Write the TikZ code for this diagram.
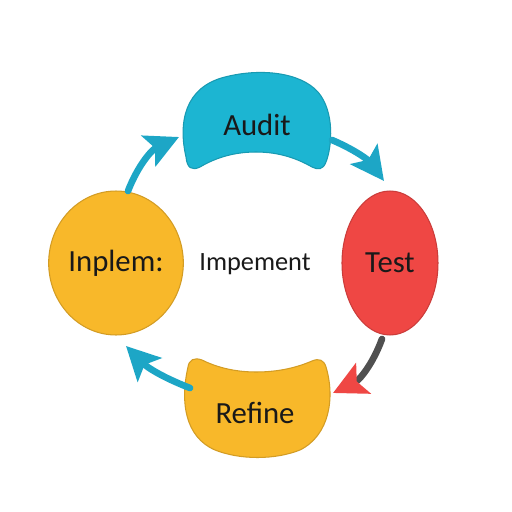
\documentclass[tikz,border=0pt]{standalone}
\usepackage{fontspec}
\setmainfont{Carlito}
\usepackage{tikz}
\usetikzlibrary{arrows.meta,shapes.geometric}
\usepackage{xcolor}
\definecolor{auditcyan}{HTML}{1CB5D2}
\definecolor{arrowcyan}{HTML}{1DA6C6}
\definecolor{testred}{HTML}{EF4744}
\definecolor{blobyellow}{HTML}{F8B82A}
\definecolor{shaftgray}{HTML}{505050}

\begin{document}
\begin{tikzpicture}[x=0.02cm,y=0.02cm,line cap=round,
  >={Stealth[length=19pt,width=19pt,inset=4pt]},
  blob/.style={ellipse,inner sep=0pt,outer sep=0pt,minimum width=#1,minimum height=2.88cm},
  label/.style={font=\fontsize{17.5}{20}\selectfont,text=black!90},
  flow/.style={->,arrowcyan,line width=3.8pt}]
\useasboundingbox[fill=white] (0,0) rectangle (512,512);
\fill[auditcyan,draw=auditcyan!85!black,line width=0.6pt] (256,360) .. controls (230,360) and (212,352) .. (200,345)
  .. controls (192,341) and (187,344) .. (186,355) .. controls (178,390) and (185,425) .. (225,435)
  .. controls (260,444) and (300,440) .. (318,420) .. controls (335,400) and (332,365) .. (326,350)
  .. controls (323,342) and (318,342) .. (312,345) .. controls (298,353) and (280,360) .. (256,360) -- cycle;
\fill[blobyellow,draw=blobyellow!85!black,line width=0.6pt] (256,140) .. controls (232,140) and (214,146) .. (202,152)
  .. controls (194,155) and (189,152) .. (188,145) .. controls (180,110) and (185,75) .. (215,62)
  .. controls (240,52) and (275,52) .. (300,62) .. controls (330,77) and (335,115) .. (326,145)
  .. controls (324,152) and (319,154) .. (312,151) .. controls (298,145) and (280,140) .. (256,140) -- cycle;
\node[label] (audit) at (257,387) {Audit};
\node[label] (refine) at (255,99) {Refine};
\node[blob=1.92cm,fill=testred,draw=testred!85!black,line width=0.6pt,label] (test) at (390,249) {Test};
\node[blob=2.16cm,fill=blobyellow,draw=blobyellow!85!black,line width=0.6pt,label] (inplem) at (116,249) {Inplem:};
\node[font=\fontsize{15}{18}\selectfont,text=black!90] (centre) at (255,248) {Impement};
\coordinate (inplemOut) at (128,321);
\coordinate (auditIn) at (179,375);
\coordinate (auditOut) at (332,372);
\coordinate (testIn) at (384,331);
\coordinate (testOut) at (382,173);
\coordinate (refineIn) at (333,119);
\coordinate (refineOut) at (190,124);
\coordinate (inplemIn) at (126,166);
\draw[flow] (inplemOut) to[bend left=22] (auditIn);
\draw[flow] (auditOut) to[bend left=15] (testIn);
\draw[->,shaftgray,line width=3.8pt,>={Stealth[length=19pt,width=19pt,inset=4pt,color=testred]}] (testOut) to[bend left=22] (refineIn);
\draw[flow] (refineOut) to[bend left=12] (inplemIn);
\end{tikzpicture}
\end{document}
